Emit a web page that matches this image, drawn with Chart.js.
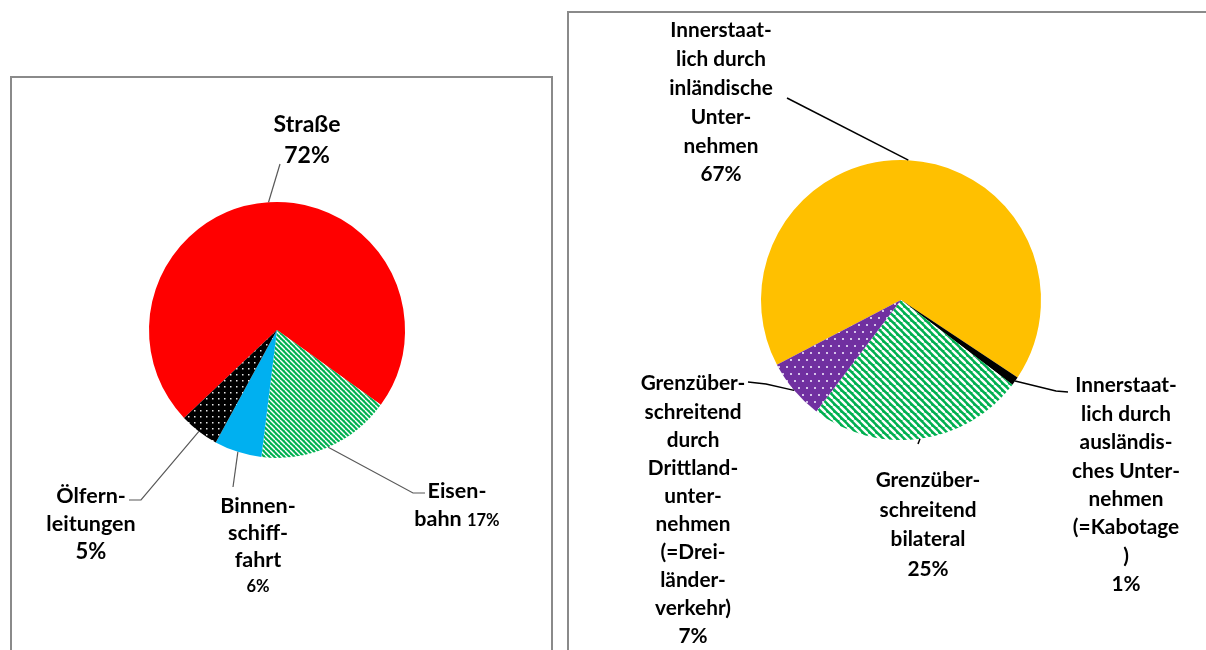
<!DOCTYPE html>
<html><head><meta charset="utf-8">
<script src="https://cdn.jsdelivr.net/npm/chart.js@4/dist/chart.umd.min.js"></script>
<style>
html,body{margin:0;padding:0;background:#fff;width:1206px;height:650px;overflow:hidden;position:relative;}
.panel{position:absolute;border:2px solid #8a8a8a;box-sizing:border-box;background:#fff;}
canvas{position:absolute;left:0;top:0;}
</style></head><body>
<div class="panel" style="left:10px;top:76px;width:543px;height:700px"></div>
<div class="panel" style="left:567px;top:11px;width:700px;height:700px"></div>
<canvas id="c1" width="1206" height="650"></canvas>
<canvas id="c2" width="1206" height="650"></canvas>
<script>
// ---------- DATA ----------
const leftCategories = ['Straße', 'Eisenbahn', 'Binnenschifffahrt', 'Ölfernleitungen'];
const leftValues = [72, 17, 6, 5];
const leftLabelLines = [['Straße'], ['Eisen-', 'bahn'], ['Binnen-', 'schiff-', 'fahrt'], ['Ölfern-', 'leitungen']];

const rightCategories = [
  'Innerstaatlich durch inländische Unternehmen',
  'Innerstaatlich durch ausländisches Unternehmen (=Kabotage)',
  'Grenzüberschreitend bilateral',
  'Grenzüberschreitend durch Drittlandunternehmen (=Dreiländerverkehr)'
];
const rightValues = [67, 1, 25, 7];
const rightLabelLines = [
  ['Innerstaat-', 'lich durch', 'inländische', 'Unter-', 'nehmen'],
  ['Innerstaat-', 'lich durch', 'ausländis-', 'ches Unter-', 'nehmen', '(=Kabotage', ')'],
  ['Grenzüber-', 'schreitend', 'bilateral'],
  ['Grenzüber-', 'schreitend', 'durch', 'Drittland-', 'unter-', 'nehmen', '(=Drei-', 'länder-', 'verkehr)']
];

// ---------- STYLE ----------
const FONT = 'Lato, "Noto Sans", sans-serif';

function stripePattern(bg, fg, period, width) {
  const c = document.createElement('canvas');
  c.width = period; c.height = period;
  const g = c.getContext('2d');
  g.fillStyle = bg; g.fillRect(0, 0, period, period);
  g.strokeStyle = fg; g.lineWidth = width;
  for (let k = -1; k <= 1; k++) {
    g.beginPath(); g.moveTo(k * period, 0); g.lineTo(k * period + period, period); g.stroke();
  }
  return g.createPattern(c, 'repeat');
}
function dotPattern(bg, fg, w, h, dots, size) {
  const c = document.createElement('canvas');
  c.width = w; c.height = h;
  const g = c.getContext('2d');
  g.fillStyle = bg; g.fillRect(0, 0, w, h);
  g.fillStyle = fg;
  dots.forEach(d => g.fillRect(d[0], d[1], size, size));
  return g.createPattern(c, 'repeat');
}

const leftColors = [
  '#FF0000',
  stripePattern('#00B050', '#ffffff', 5, 1.4),
  '#00B0F0',
  dotPattern('#000000', '#e8e8e8', 6, 6, [[2, 2]], 1.5)
];
const rightColors = [
  '#FFC000',
  '#000000',
  stripePattern('#00B050', '#ffffff', 7, 2.4),
  dotPattern('#7030A0', '#d6c4ea', 16, 14, [[2, 2], [10, 2], [6, 9], [14, 9]], 2)
];

const leftLabelStyle = [
  { cx: 307, y0: 124, lh: 31, size: 23, pctSize: 23, inline: false, leader: [[280, 164]] },
  { cx: 457, y0: 490, lh: 28, size: 21.5, pctSize: 16.5, inline: true, leader: [[413, 493], [425, 493]] },
  { cx: 258, y0: 505, lh: 27, size: 21.5, pctSize: 16.5, inline: false, leader: [[233, 487]] },
  { cx: 91, y0: 495, lh: 28, size: 21.5, pctSize: 22, inline: false, leader: [[141, 500], [129, 500]] }
];
const rightLabelStyle = [
  { cx: 721, y0: 30, lh: 28.8, size: 20.8, pctSize: 20.8, leader: [[787, 98]] },
  { cx: 1126, y0: 385, lh: 28.4, size: 20.8, pctSize: 20.8, leader: [[1056, 391], [1068, 392]] },
  { cx: 928, y0: 480, lh: 29.5, size: 20.8, pctSize: 20.8, leader: [[918, 444]] },
  { cx: 693, y0: 383, lh: 28.1, size: 20.8, pctSize: 20.8, leader: [[766, 384], [748, 382]] }
];

function labelPlugin(labelLines, styles, lineColor, lineWidth) {
  return {
    id: 'pieLabels',
    afterDraw(chart) {
      const ctx = chart.ctx;
      const meta = chart.getDatasetMeta(0);
      const values = chart.data.datasets[0].data;
      const total = values.reduce((a, b) => a + b, 0);
      ctx.save();
      ctx.strokeStyle = lineColor; ctx.lineWidth = lineWidth;
      meta.data.forEach((el, i) => {
        const p = el.getProps(['x', 'y', 'startAngle', 'endAngle', 'outerRadius'], true);
        const mid = (p.startAngle + p.endAngle) / 2;
        const ax = p.x + p.outerRadius * Math.cos(mid);
        const ay = p.y + p.outerRadius * Math.sin(mid);
        ctx.beginPath(); ctx.moveTo(ax, ay);
        styles[i].leader.forEach(pt => ctx.lineTo(pt[0], pt[1]));
        ctx.stroke();
      });
      ctx.fillStyle = '#000';
      ctx.textBaseline = 'alphabetic';
      labelLines.forEach((lines, i) => {
        const s = styles[i];
        const pct = Math.round(values[i] / total * 100) + '%';
        const font = sz => 'bold ' + sz + 'px ' + FONT;
        let y = s.y0;
        lines.forEach((ln, j) => {
          const base = y + s.size * 0.36;
          if (s.inline && j === lines.length - 1) {
            ctx.font = font(s.size);
            const w1 = ctx.measureText(ln + ' ').width;
            ctx.font = font(s.pctSize);
            const w2 = ctx.measureText(pct).width;
            const x0 = s.cx - (w1 + w2) / 2;
            ctx.textAlign = 'left';
            ctx.font = font(s.size); ctx.fillText(ln + ' ', x0, base);
            ctx.font = font(s.pctSize); ctx.fillText(pct, x0 + w1, base);
          } else {
            ctx.textAlign = 'center';
            ctx.font = font(s.size);
            ctx.fillText(ln, s.cx, base);
          }
          y += s.lh;
        });
        if (!s.inline) {
          ctx.textAlign = 'center';
          ctx.font = font(s.pctSize);
          ctx.fillText(pct, s.cx, y + s.pctSize * 0.36);
        }
      });
      ctx.restore();
    }
  };
}

function makePie(id, cats, vals, colors, rotation, cx, cy, r, plugin) {
  const W = 1206, H = 650;
  return new Chart(document.getElementById(id), {
    type: 'pie',
    data: { labels: cats, datasets: [{ data: vals, backgroundColor: colors, borderWidth: 0, hoverOffset: 0 }] },
    options: {
      responsive: false, animation: false, rotation: rotation,
      layout: { padding: { left: cx - r, right: W - cx - r, top: cy - r, bottom: H - cy - r } },
      plugins: { legend: { display: false }, tooltip: { enabled: false } }
    },
    plugins: [plugin]
  });
}

makePie('c1', leftCategories, leftValues, leftColors, 226.6, 277, 330, 128,
  labelPlugin(leftLabelLines, leftLabelStyle, '#595959', 1.2));
makePie('c2', rightCategories, rightValues, rightColors, 242.4, 901, 300, 140,
  labelPlugin(rightLabelLines, rightLabelStyle, '#000000', 1.5));
</script>
</body></html>
